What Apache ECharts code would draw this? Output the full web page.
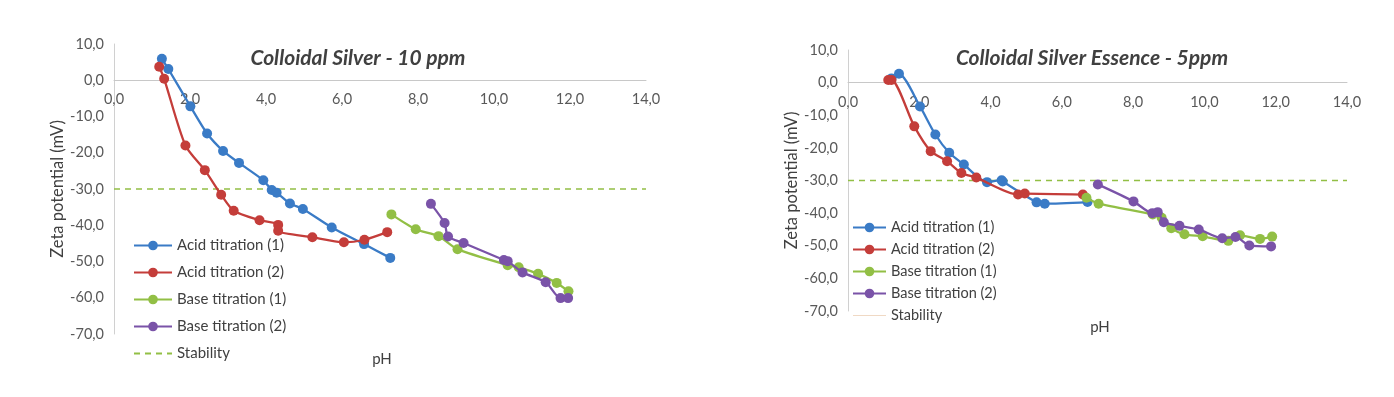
<!DOCTYPE html>
<html><head><meta charset="utf-8">
<script src="https://cdn.jsdelivr.net/npm/echarts@6/dist/echarts.min.js"></script>
<style>html,body{margin:0;padding:0;background:#fff}#c{width:1394px;height:397px}</style>
</head><body><div id="c"></div>
<script>
// ---- Data: [pH, zeta potential (mV)] ----
const titles = ['Colloidal Silver - 10 ppm', 'Colloidal Silver Essence - 5ppm'];
const seriesNames = ['Acid titration (1)', 'Acid titration (2)', 'Base titration (1)', 'Base titration (2)', 'Stability'];
const xTicks = [0, 2, 4, 6, 8, 10, 12, 14];
const yTicks = [10, 0, -10, -20, -30, -40, -50, -60, -70];
const stabilityLevel = -30;

// Left chart: Colloidal Silver - 10 ppm
const L_acid1 = [[1.26,5.9],[1.43,3.1],[2.01,-7.2],[2.45,-14.7],[2.87,-19.5],[3.29,-22.8],[3.93,-27.6],[4.15,-30.3],[4.28,-31.0],[4.63,-34.0],[4.97,-35.5],[5.73,-40.6],[6.58,-45.2],[7.27,-49.0]];
const L_acid2 = [[1.19,3.7],[1.32,0.4],[1.88,-18.0],[2.39,-24.8],[2.82,-31.6],[3.15,-36.0],[3.83,-38.6],[4.32,-39.9],[4.32,-41.5],[5.22,-43.3],[6.05,-44.7],[6.59,-44.0],[7.19,-41.9]];
const L_base1 = [[7.30,-37.0],[7.94,-41.1],[8.54,-43.0],[9.04,-46.6],[10.36,-51.0],[10.65,-51.6],[11.16,-53.4],[11.65,-55.9],[11.96,-58.2]];
const L_base2 = [[8.34,-34.1],[8.70,-39.4],[8.79,-43.1],[9.20,-44.9],[10.26,-49.6],[10.36,-49.9],[10.75,-53.0],[11.36,-55.7],[11.75,-60.1],[11.95,-60.1]];

// Right chart: Colloidal Silver Essence - 5ppm
const R_acid1 = [[1.22,1.3],[1.43,2.7],[2.02,-7.3],[2.45,-15.9],[2.84,-21.5],[3.25,-25.1],[3.90,-30.5],[4.31,-29.9],[4.34,-30.3],[5.29,-36.7],[5.52,-37.1],[6.72,-36.6]];
const R_acid2 = [[1.13,0.8],[1.22,0.8],[1.86,-13.4],[2.32,-21.0],[2.78,-24.1],[3.18,-27.7],[3.60,-29.1],[4.77,-34.3],[4.96,-34.0],[6.59,-34.3]];
const R_base1 = [[6.69,-35.3],[7.03,-37.1],[8.55,-40.4],[8.80,-41.4],[9.07,-44.6],[9.44,-46.5],[9.95,-47.1],[10.67,-48.5],[11.00,-46.8],[11.56,-47.9],[11.90,-47.2]];
const R_base2 = [[7.01,-31.2],[8.01,-36.4],[8.54,-40.0],[8.69,-39.7],[8.86,-42.8],[9.30,-43.9],[9.84,-45.0],[10.50,-47.7],[10.87,-47.3],[11.26,-49.9],[11.87,-50.2]];

const colors = ['#3a7bc6', '#c43d3a', '#92bf45', '#7a53a8', '#92bf45'];
const FONT = 'Lato, "Open Sans", sans-serif';
const fmt = v => v.toFixed(1).replace('.', ',');

const grids = [
  {left: 114, right: 748, top: 44, bottom: 63},
  {left: 848, right: 47, top: 50, bottom: 86}
];
const chartData = [[L_acid1, L_acid2, L_base1, L_base2], [R_acid1, R_acid2, R_base1, R_base2]];
const yMin = yTicks[yTicks.length-1], yMax = yTicks[0];

const xAxes = grids.map((g, i) => {
  const h = 397 - g.top - g.bottom;
  const zeroOffset = -h * (0 - yMin) / (yMax - yMin); // move axis (line + labels) up to y = 0
  return {
    gridIndex: i, type: 'value', min: xTicks[0], max: xTicks[xTicks.length-1], interval: 2,
    position: 'bottom', offset: zeroOffset,
    axisLine: {onZero: false, lineStyle: {color: '#c8c8c8', width: 1}},
    axisTick: {show: false}, splitLine: {show: false},
    axisLabel: {formatter: fmt, color: '#595959', fontSize: 14.5, fontFamily: FONT, margin: 12}
  };
});
const yAxes = grids.map((g, i) => ({
  gridIndex: i, type: 'value', min: yMin, max: yMax, interval: 10,
  name: 'Zeta potential (mV)', nameLocation: 'middle', nameGap: i === 0 ? 41 : 44,
  nameTextStyle: {color: '#404040', fontSize: 16.5, fontFamily: FONT},
  axisLine: {show: true, onZero: false, lineStyle: {color: '#d0d0d0', width: 1}},
  axisTick: {show: false}, splitLine: {show: false},
  axisLabel: {formatter: fmt, color: '#595959', fontSize: 14.5, fontFamily: FONT, margin: 10}
}));

const series = [];
chartData.forEach((sets, ci) => {
  sets.forEach((d, si) => {
    series.push({
      name: seriesNames[si], type: 'line', xAxisIndex: ci, yAxisIndex: ci,
      data: d, smooth: 0.25, symbol: 'circle', symbolSize: 10,
      lineStyle: {color: colors[si], width: 2.3}, itemStyle: {color: colors[si]},
      z: 3 + si
    });
  });
  series.push({
    name: 'Stability', type: 'line', xAxisIndex: ci, yAxisIndex: ci,
    data: [[xTicks[0], stabilityLevel], [xTicks[xTicks.length-1], stabilityLevel]],
    symbol: 'none', lineStyle: {color: colors[4], width: 1.3, type: [6, 5]},
    itemStyle: {color: colors[4]}, z: 2
  });
});

const option = {
  animation: false,
  textStyle: {fontFamily: FONT},
  grid: grids,
  xAxis: xAxes,
  yAxis: yAxes,
  title: [
    {text: titles[0], left: 353, top: 43, textAlign: 'center',
     textStyle: {fontSize: 21, fontWeight: 'bold', fontStyle: 'italic', color: '#404040', fontFamily: FONT}},
    {text: titles[1], left: 1087, top: 43, textAlign: 'center',
     textStyle: {fontSize: 21, fontWeight: 'bold', fontStyle: 'italic', color: '#404040', fontFamily: FONT}},
    {text: 'pH', left: 377, top: 347, textAlign: 'center',
     textStyle: {fontSize: 15, fontWeight: 'normal', color: '#404040', fontFamily: FONT}},
    {text: 'pH', left: 1095, top: 315, textAlign: 'center',
     textStyle: {fontSize: 15, fontWeight: 'normal', color: '#404040', fontFamily: FONT}}
  ],
  legend: [
    {orient: 'vertical', left: 128, top: 233, itemGap: 12, itemWidth: 38, itemHeight: 12,
     textStyle: {color: '#404040', fontSize: 15, fontFamily: FONT},
     data: seriesNames.map(n => n === 'Stability'
       ? {name: n, itemStyle: {opacity: 0}}
       : {name: n})},
    {orient: 'vertical', left: 847, top: 215, itemGap: 7, itemWidth: 33, itemHeight: 12,
     textStyle: {color: '#404040', fontSize: 14.5, fontFamily: FONT},
     data: seriesNames.map(n => n === 'Stability'
       ? {name: n, itemStyle: {opacity: 0}, lineStyle: {color: '#f0d9c4', type: 'solid', width: 1, opacity: 1}}
       : {name: n})}
  ],
  series: series
};
const chart = echarts.init(document.getElementById('c'), null, {renderer: 'canvas'});
chart.setOption(option);
</script>
</body></html>
